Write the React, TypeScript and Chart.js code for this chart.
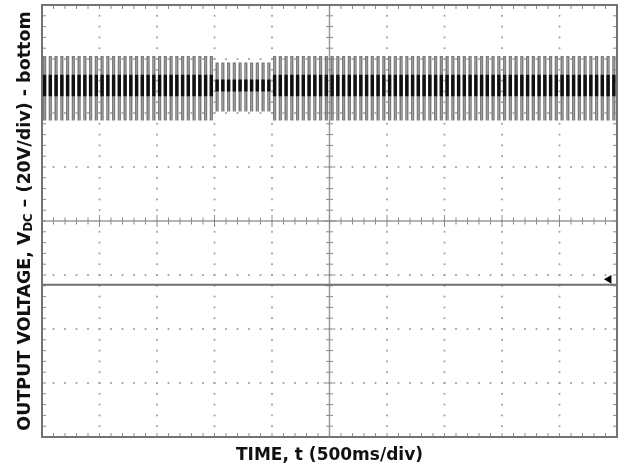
import React, { useEffect, useRef } from 'react';
import { Chart, registerables } from 'chart.js';

Chart.register(...registerables);

// Scope screen, in divisions
const X_RANGE = [0, 10];
const Y_RANGE = [-4, 4];
const MINOR_PER_DIV = 5;

const X_TITLE = 'TIME, t (500ms/div)';
const Y_TITLE_MAIN = 'OUTPUT VOLTAGE, V';
const Y_TITLE_SUB = 'DC';
const Y_TITLE_REST = ' – (20V/div) - bottom';

// Top trace: switching bursts (levels in divisions)
const PULSE_PERIOD = 0.1;
const PULSE_PHASE = 0.03;
const PULSE_COUNT = 100;
const segStart = [0, 3.02, 4.02];
const segEnd = [3.02, 4.02, 10.1];
const pulseTop = [3.04, 2.92, 3.04];
const pulseBottom = [1.86, 2.03, 1.86];
const bandHigh = [2.71, 2.62, 2.71];
const bandLow = [2.31, 2.4, 2.31];

// Bottom trace (flat output)
const bottomTime = [0, 10];
const bottomLevel = [-1.18, -1.18];

// Channel ground marker
const markerTime = [9.86];
const markerLevel = [-1.08];

type P = { x: number; y: number | null };

function buildTop() {
  const gray: P[] = [];
  const black: P[] = [];
  for (let k = 0; k < PULSE_COUNT; k++) {
    const t = PULSE_PHASE + k * PULSE_PERIOD;
    let s = 0;
    for (let i = 0; i < segStart.length; i++) if (t >= segStart[i] && t < segEnd[i]) s = i;
    gray.push({ x: t, y: pulseBottom[s] });
    gray.push({ x: t, y: pulseTop[s] });
    gray.push({ x: t + 0.03, y: pulseTop[s] });
    gray.push({ x: t + 0.03, y: pulseBottom[s] });
    gray.push({ x: t + 0.05, y: null });
    black.push({ x: t + 0.015, y: bandLow[s] });
    black.push({ x: t + 0.015, y: bandHigh[s] });
    black.push({ x: t + 0.05, y: null });
  }
  return { gray, black };
}

const graticule = {
  id: 'graticule',
  beforeDatasetsDraw(chart: any) {
    const { ctx, chartArea, scales } = chart;
    const x = scales.x;
    const y = scales.y;
    const { left, right, top, bottom } = chartArea;
    ctx.save();
    // dotted division lines
    ctx.fillStyle = '#a0a0a0';
    const nx = (X_RANGE[1] - X_RANGE[0]) * MINOR_PER_DIV;
    const ny = (Y_RANGE[1] - Y_RANGE[0]) * MINOR_PER_DIV;
    for (let i = X_RANGE[0] + 1; i < X_RANGE[1]; i++) {
      if (i === 5) continue;
      const px = x.getPixelForValue(i);
      for (let k = 0; k <= ny; k++) {
        const py = y.getPixelForValue(Y_RANGE[0] + k / MINOR_PER_DIV);
        ctx.fillRect(px - 0.9, py - 0.9, 1.8, 1.8);
      }
    }
    for (let j = Y_RANGE[0] + 1; j < Y_RANGE[1]; j++) {
      if (j === 0) continue;
      const py = y.getPixelForValue(j);
      for (let k = 0; k <= nx; k++) {
        const px = x.getPixelForValue(X_RANGE[0] + k / MINOR_PER_DIV);
        ctx.fillRect(px - 0.9, py - 0.9, 1.8, 1.8);
      }
    }
    // center cross with ticks
    const cx = x.getPixelForValue(5);
    const cy = y.getPixelForValue(0);
    ctx.strokeStyle = '#9a9a9a';
    ctx.lineWidth = 1.5;
    ctx.beginPath();
    ctx.moveTo(left, cy);
    ctx.lineTo(right, cy);
    ctx.moveTo(cx, top);
    ctx.lineTo(cx, bottom);
    ctx.stroke();
    ctx.lineWidth = 1;
    ctx.strokeStyle = '#8a8a8a';
    ctx.beginPath();
    for (let k = 0; k <= nx; k++) {
      const px = x.getPixelForValue(X_RANGE[0] + k / MINOR_PER_DIV);
      const len = k % MINOR_PER_DIV === 0 ? 6 : 3.5;
      ctx.moveTo(px, cy - len);
      ctx.lineTo(px, cy + len);
      ctx.moveTo(px, top);
      ctx.lineTo(px, top + 4);
      ctx.moveTo(px, bottom);
      ctx.lineTo(px, bottom - 4);
    }
    for (let k = 0; k <= ny; k++) {
      const py = y.getPixelForValue(Y_RANGE[0] + k / MINOR_PER_DIV);
      const len = k % MINOR_PER_DIV === 0 ? 6 : 3.5;
      ctx.moveTo(cx - len, py);
      ctx.lineTo(cx + len, py);
      ctx.moveTo(left, py);
      ctx.lineTo(left + 4, py);
      ctx.moveTo(right, py);
      ctx.lineTo(right - 4, py);
    }
    ctx.stroke();
    // border
    ctx.strokeStyle = '#737373';
    ctx.lineWidth = 2;
    ctx.strokeRect(left, top, right - left, bottom - top);
    ctx.restore();
  },
};

const titles = {
  id: 'titles',
  afterDraw(chart: any) {
    const { ctx, chartArea } = chart;
    const { left, right, top, bottom } = chartArea;
    ctx.save();
    ctx.fillStyle = '#111';
    ctx.font = 'bold 17px "DejaVu Sans"';
    ctx.textAlign = 'center';
    ctx.textBaseline = 'alphabetic';
    ctx.fillText(X_TITLE, (left + right) / 2, 460);

    const big = 'bold 17.5px "DejaVu Sans"';
    const small = 'bold 11.5px "DejaVu Sans"';
    ctx.textAlign = 'left';
    ctx.font = big;
    const w1 = ctx.measureText(Y_TITLE_MAIN).width;
    const w3 = ctx.measureText(Y_TITLE_REST).width;
    ctx.font = small;
    const w2 = ctx.measureText(Y_TITLE_SUB).width;
    const total = w1 + w2 + w3;
    ctx.translate(29.5, (top + bottom) / 2);
    ctx.rotate(-Math.PI / 2);
    let pos = -total / 2;
    ctx.font = big;
    ctx.fillText(Y_TITLE_MAIN, pos, 0);
    pos += w1;
    ctx.font = small;
    ctx.fillText(Y_TITLE_SUB, pos, 2.5);
    pos += w2;
    ctx.font = big;
    ctx.fillText(Y_TITLE_REST, pos, 0);
    ctx.restore();
  },
};

export default function App() {
  const ref = useRef<HTMLCanvasElement | null>(null);
  useEffect(() => {
    if (!ref.current) return;
    const { gray, black } = buildTop();
    const chart = new Chart(ref.current, {
      type: 'line',
      data: {
        datasets: [
          {
            label: 'marker',
            data: markerTime.map((t, i) => ({ x: t, y: markerLevel[i] })),
            showLine: false,
            pointStyle: 'triangle',
            rotation: -90,
            pointRadius: 5,
            pointBackgroundColor: '#000',
            pointBorderColor: '#000',
            borderWidth: 0,
          } as any,
          {
            label: 'band',
            data: black,
            borderColor: '#101010',
            borderWidth: 3.4,
            pointRadius: 0,
            spanGaps: false,
            tension: 0,
          },
          {
            label: 'bursts',
            data: gray,
            borderColor: '#7d7d7d',
            borderWidth: 1.5,
            pointRadius: 0,
            spanGaps: false,
            tension: 0,
          },
          {
            label: 'output',
            data: bottomTime.map((t, i) => ({ x: t, y: bottomLevel[i] })),
            borderColor: '#6f6f6f',
            borderWidth: 2,
            pointRadius: 0,
            tension: 0,
          },
        ],
      },
      options: {
        responsive: false,
        animation: false,
        parsing: true,
        layout: { padding: { left: 42, right: 8, top: 3, bottom: 35 } },
        plugins: { legend: { display: false }, tooltip: { enabled: false } },
        events: [],
        scales: {
          x: { type: 'linear', min: X_RANGE[0], max: X_RANGE[1], display: false },
          y: { type: 'linear', min: Y_RANGE[0], max: Y_RANGE[1], display: false },
        },
      },
      plugins: [graticule, titles],
    });
    return () => chart.destroy();
  }, []);
  return (
    <div style={{ position: 'absolute', left: 0, top: 0, width: 625, height: 472, background: '#fff' }}>
      <canvas ref={ref} width={625} height={472} />
    </div>
  );
}
